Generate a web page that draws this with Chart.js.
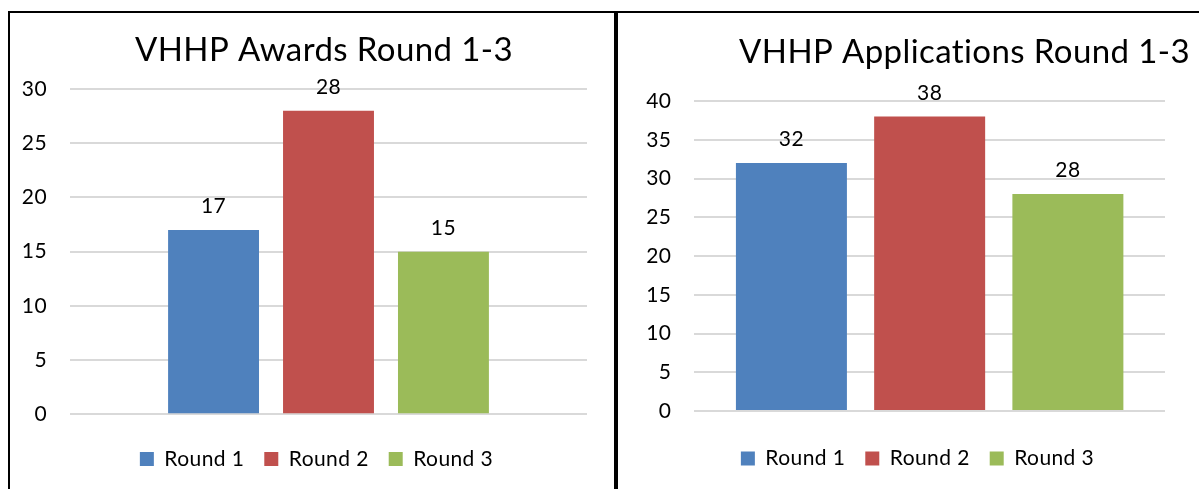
<!DOCTYPE html>
<html>
<head>
<meta charset="utf-8">
<title>VHHP Rounds 1-3</title>
<script src="https://cdn.jsdelivr.net/npm/chart.js@4.4.0/dist/chart.umd.min.js"></script>
<style>
    body {
        margin: 0;
        width: 1199px;
        height: 489px;
        overflow: hidden;
        position: relative;
        background: #fff;
    }

    .panel {
        position: absolute;
        top: 13px;
        height: 476px;
    }

    #leftPanel { left: 10px; width: 604px; }
    #rightPanel { left: 618px; width: 581px; }

    .rule {
        position: absolute;
        background: #000;
        z-index: 2;
    }
</style>
</head>
<body>
<div class="rule" style="left:8px; top:11px; width:1191px; height:2px"></div>
<div class="rule" style="left:8px; top:11px; width:2px; height:478px"></div>
<div class="rule" style="left:614px; top:11px; width:4px; height:478px"></div>

<div class="panel" id="leftPanel"><canvas id="awardsChart" width="604" height="476"></canvas></div>
<div class="panel" id="rightPanel"><canvas id="applicationsChart" width="581" height="476"></canvas></div>

<script>
const roundLabels = ['Round 1', 'Round 2', 'Round 3'];
const awardsValues = [17, 28, 15];
const applicationsValues = [32, 38, 28];
const awardsTicks = [0, 5, 10, 15, 20, 25, 30];
const applicationsTicks = [0, 5, 10, 15, 20, 25, 30, 35, 40];

const roundColors = ['#4f81bd', '#c0504d', '#9bbb59'];
const fontFamily = 'Lato, "Open Sans", sans-serif';

// slightly wider text, and no "ti" ligature in Lato
const textSetup = {
    id: 'textSetup',
    beforeUpdate(chart) { setupText(chart.ctx); },
    beforeDraw(chart) { setupText(chart.ctx); }
};

function setupText(ctx) {
    ctx.letterSpacing = '0.4px';
    ctx.textRendering = 'optimizeSpeed';
}

// numbers written above each bar
const valueLabels = {
    id: 'valueLabels',
    afterDatasetsDraw(chart) {
        const ctx = chart.ctx;
        ctx.save();
        ctx.font = `21px ${fontFamily}`;
        ctx.fillStyle = '#000';
        ctx.textAlign = 'center';
        ctx.textBaseline = 'alphabetic';
        chart.data.datasets.forEach((dataset, i) => {
            chart.getDatasetMeta(i).data.forEach((bar, j) => {
                ctx.fillText(dataset.data[j], bar.x, bar.y - 17);
            });
        });
        ctx.restore();
    }
};

// title and legend are not centred on the canvas in the original
const boxOffsets = {
    id: 'boxOffsets',
    afterLayout(chart, args, opts) {
        shiftBox(chart.titleBlock, opts.titleCenter);
        shiftBox(chart.legend, opts.legendCenter);
    }
};

function shiftBox(box, center) {
    if (!box || center === undefined) {
        return;
    }
    const dx = center - (box.left + box.right) / 2;
    box.left += dx;
    box.right += dx;
}

function buildChart(canvasId, title, values, ticks, layout) {
    return new Chart(document.getElementById(canvasId), {
        type: 'bar',
        data: {
            labels: [''],
            datasets: roundLabels.map((label, i) => ({
                label,
                data: [values[i]],
                backgroundColor: roundColors[i],
                categoryPercentage: layout.categoryPercentage,
                barPercentage: layout.barPercentage
            }))
        },
        options: {
            responsive: false,
            animation: false,
            layout: {
                padding: { left: 0, top: 0, right: layout.padRight, bottom: layout.padBottom }
            },
            scales: {
                x: {
                    grid: { display: false },
                    border: { display: false },
                    ticks: { display: false },
                    afterFit: (scale) => { scale.height = layout.xAxisHeight; }
                },
                y: {
                    min: 0,
                    max: ticks[ticks.length - 1],
                    border: { display: false },
                    grid: { color: '#d9d9d9', lineWidth: 2, drawTicks: false },
                    ticks: {
                        padding: 23,
                        color: '#000',
                        font: { family: fontFamily, size: 21 }
                    },
                    afterBuildTicks: (scale) => {
                        scale.ticks = ticks.map((value) => ({ value }));
                    },
                    afterFit: (scale) => { scale.width = layout.yAxisWidth; }
                }
            },
            plugins: {
                title: {
                    display: true,
                    text: title,
                    color: '#000',
                    font: { family: fontFamily, size: 33, weight: 'normal', lineHeight: 1.2 },
                    padding: { top: layout.titleTop, bottom: layout.titleBottom }
                },
                legend: {
                    position: 'bottom',
                    labels: {
                        boxWidth: 14,
                        boxHeight: 14,
                        padding: 20,
                        color: '#000',
                        font: { family: fontFamily, size: 21 }
                    }
                },
                tooltip: { enabled: false },
                boxOffsets: {
                    titleCenter: layout.titleCenter,
                    legendCenter: layout.legendCenter
                }
            }
        },
        plugins: [textSetup, valueLabels, boxOffsets]
    });
}

buildChart('awardsChart', 'VHHP Awards Round 1-3', awardsValues, awardsTicks, {
    categoryPercentage: 0.667,
    barPercentage: 0.791,
    yAxisWidth: 60,
    padRight: 27,
    padBottom: 9.5,
    xAxisHeight: 14.2,
    titleTop: 17.2,
    titleBottom: 19.2,
    titleCenter: 314,
    legendCenter: 306.5
});

buildChart('applicationsChart', 'VHHP Applications Round 1-3', applicationsValues, applicationsTicks, {
    categoryPercentage: 0.881,
    barPercentage: 0.803,
    yAxisWidth: 76.3,
    padRight: 34,
    padBottom: 10,
    xAxisHeight: 17,
    titleTop: 19.7,
    titleBottom: 28.7,
    titleCenter: 346.5,
    legendCenter: 299.5
});
</script>
</body>
</html>
